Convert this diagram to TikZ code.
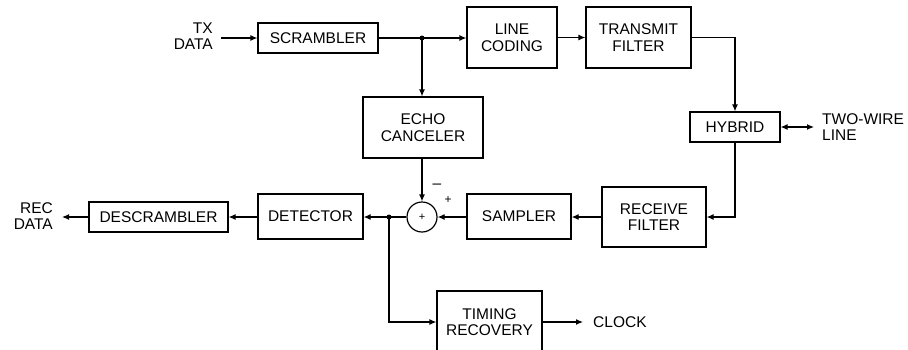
\documentclass[tikz,border=0pt]{standalone}
\usepackage{fontspec}
\setmainfont{Liberation Sans}
\usetikzlibrary{arrows.meta,calc}
\begin{document}
\begin{tikzpicture}[x=1pt,y=-1pt,
  every node/.style={font=\fontsize{15.5}{16.5}\selectfont},
  blk/.style={draw,line width=1.2pt,align=center,inner sep=0pt},
  lbl/.style={inner sep=0pt},
  conn/.style={line width=1.2pt,-{Latex[length=7pt,width=6pt]}},
  wire/.style={line width=1.2pt},
  jdot/.style={circle,fill,inner sep=0pt,minimum size=5pt}]
\useasboundingbox (0,0) rectangle (908,349);
% blocks
\node[blk,minimum width=120,minimum height=30] (scr) at (318,38) {SCRAMBLER};
\node[blk,minimum width=90,minimum height=61] (lc) at (512,37.5) {LINE\\CODING};
\node[blk,minimum width=105,minimum height=61] (tf) at (638.5,37.5) {TRANSMIT\\FILTER};
\node[blk,minimum width=90,minimum height=30] (hyb) at (735,127) {HYBRID};
\node[blk,minimum width=120,minimum height=61] (echo) at (423,127.5) {ECHO\\CANCELER};
\node[blk,minimum width=104,minimum height=60] (rf) at (654,217) {RECEIVE\\FILTER};
\node[blk,minimum width=104,minimum height=45] (samp) at (519,216.5) {SAMPLER};
\node[draw,circle,line width=1.2pt,minimum size=30,inner sep=0pt,font=\fontsize{11}{12}\selectfont] (sum) at (422,217) {+};
\node[blk,minimum width=105,minimum height=45] (det) at (310.5,216.5) {DETECTOR};
\node[blk,minimum width=139,minimum height=30] (desc) at (158.5,217) {DESCRAMBLER};
\node[blk,minimum width=105,minimum height=62] (tim) at (489.5,322) {TIMING\\RECOVERY};
% labels
\node[lbl,align=right,anchor=east] (txd) at (213,36) {TX\\DATA};
\node[lbl,align=right,anchor=east] (rec) at (53,216) {REC\\DATA};
\node[lbl,align=left,anchor=west] (two) at (822,127) {TWO-WIRE\\LINE};
\node[lbl,anchor=west] (clk) at (593,322) {CLOCK};
\node[lbl] (minus) at (437,186) {\textendash};
\node[lbl,font=\fontsize{12}{12}\selectfont] (plus) at (448,200) {+};
% junctions
\node[jdot] (j1) at (422,38) {};
\node[jdot] (j2) at (389,217) {};
\coordinate (txs) at (221,38);
\coordinate (rece) at (62,217);
\coordinate (twow) at (814,127);
\coordinate (clkw) at (583,322);
% connectors
\draw[conn] (txs) -- (scr.west);
\draw[wire] (scr.east) -- (j1.center);
\draw[conn] (j1.center) -- (lc.west |- j1);
\draw[conn] (j1.center) -- (echo.north -| j1);
\draw[conn] (lc.east) -- (tf.west);
\draw[conn] (tf.east) -| (hyb.north);
\draw[line width=1.2pt,{Latex[length=7pt,width=6pt]}-{Latex[length=7pt,width=6pt]}] (hyb.east) -- (twow);
\draw[conn] (hyb.south) |- (rf.east);
\draw[conn] (rf.west) -- (samp.east |- rf.west);
\draw[conn] (samp.west |- sum) -- (sum.east);
\draw[conn] (echo.south -| sum) -- (sum.north);
\draw[wire] (sum.west) -- (j2.center);
\draw[conn] (j2.center) -- (det.east |- j2);
\draw[conn] (det.west |- desc) -- (desc.east);
\draw[conn] (desc.west) -- (rece);
\draw[conn] (j2.center) |- (tim.west);
\draw[conn] (tim.east) -- (clkw);
\end{tikzpicture}
\end{document}
